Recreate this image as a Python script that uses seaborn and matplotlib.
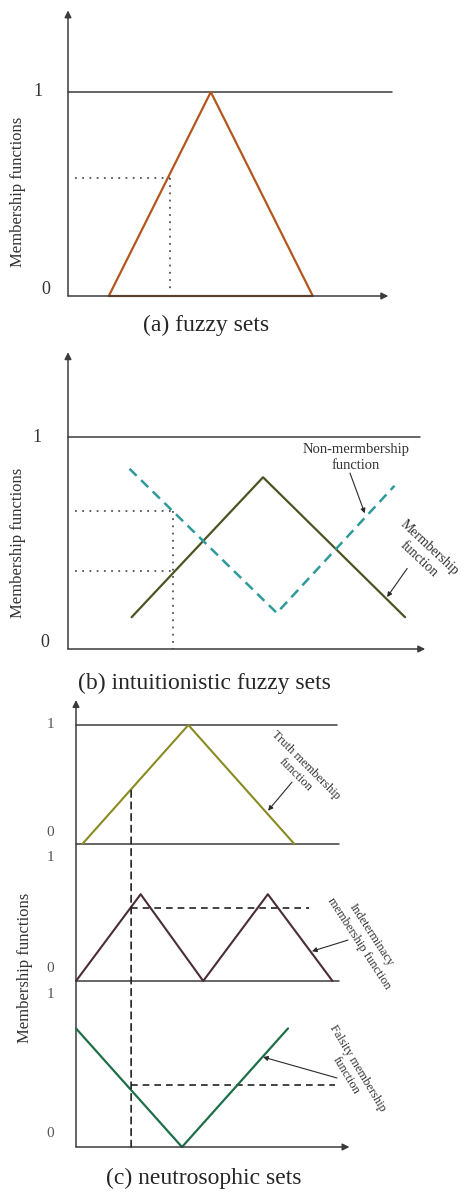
import matplotlib
matplotlib.use('Agg')
import matplotlib.pyplot as plt
from matplotlib.patches import ConnectionPatch
import seaborn as sns

W, H = 465, 1193

# (a) fuzzy sets
fuzzy_x = [2.0, 7.0, 12.0, 2.0]
fuzzy_y = [0.0, 1.0, 0.0, 0.0]
fuzzy_pick_x = 5.0
fuzzy_pick_y = 0.58

# (b) intuitionistic fuzzy sets
mem_x = [3.0, 9.2, 15.9]
mem_y = [0.15, 0.81, 0.15]
nonmem_x = [2.9, 9.85, 15.4]
nonmem_y = [0.85, 0.17, 0.77]
ifs_pick_x = 4.95
ifs_pick_levels = [0.65, 0.37]

# (c) neutrosophic sets
truth_x = [0.3, 5.3, 10.3]
truth_y = [0.0, 1.0, 0.0]
indet_x = [0.0, 3.05, 6.0, 9.05, 12.1]
indet_y = [0.0, 0.7, 0.0, 0.7, 0.0]
false_x = [0.0, 5.0, 10.0]
false_y = [0.78, 0.0, 0.78]
ns_pick_x = 2.6
ns_pick_truth = 0.45
ns_pick_indet = 0.59
ns_pick_false = 0.41

sns.set_theme(style='white')
plt.rcParams['font.family'] = ['Liberation Serif', 'DejaVu Serif']

AX = '#3c3c3c'
ARW = dict(arrowstyle='-|>', color=AX, lw=1.1, mutation_scale=10, shrinkA=0, shrinkB=0)
PTR = dict(arrowstyle='-|>', color='#2a2a2a', lw=0.8, mutation_scale=7, shrinkA=0, shrinkB=0)

fig = plt.figure(figsize=(W / 100, H / 100), dpi=100)


def px_axes(left, top, right, bottom):
    ax = fig.add_axes([left / W, 1 - bottom / H, (right - left) / W, (bottom - top) / H])
    ax.axis('off')
    return ax


def axis_arrows(ax, xtip, ytop):
    ax.annotate('', xy=(0, ytop), xytext=(0, 0), arrowprops=ARW, annotation_clip=False)
    ax.annotate('', xy=(xtip, 0), xytext=(0, 0), arrowprops=ARW, annotation_clip=False)


def curve(ax, x, y, color, **kw):
    sns.lineplot(x=x, y=y, ax=ax, sort=False, estimator=None, color=color,
                 legend=False, **kw)
    for l in ax.lines:
        l.set_clip_on(False)


def note(ax, x, y, s, rot, size, spacing):
    ax.text(x, y, s, ha='center', va='center', multialignment='center', rotation=rot,
            rotation_mode='anchor', fontsize=size, color='#333', linespacing=spacing)


# ---------- (a) ----------
ax = px_axes(68, 10.4, 68 + 16.5 * 20.4, 296)
ax.set_xlim(0, 16.5)
ax.set_ylim(0, 1.4)
ax.plot([0, 15.9], [1, 1], color=AX, lw=1.1)
ax.plot([0.35, fuzzy_pick_x], [fuzzy_pick_y] * 2, color='#555', lw=1.3, ls=(0, (1, 3)))
ax.plot([fuzzy_pick_x] * 2, [fuzzy_pick_y, 0.03], color='#555', lw=1.3, ls=(0, (1, 3)))
axis_arrows(ax, 15.7, 1.4)
curve(ax, fuzzy_x, fuzzy_y, '#b3561d', lw=1.6)
ax.text(-1.47, 1.0, '1', ha='center', va='center', fontsize=13, color='#333')
ax.text(-1.08, 0.03, '0', ha='center', va='center', fontsize=13, color='#333')
fig.text(18 / W, 1 - 192 / H, 'Membership functions', rotation=90, ha='center',
         va='center', fontsize=12, color='#333')
fig.text(206 / W, 1 - 325 / H, '(a) fuzzy sets', ha='center', va='center', fontsize=17)

# ---------- (b) ----------
ax = px_axes(68, 352.2, 68 + 17.2 * 21.2, 649)
ax.set_xlim(0, 17.2)
ax.set_ylim(0, 1.4)
ax.plot([0, 16.6], [1, 1], color=AX, lw=1.1)
for lv in ifs_pick_levels:
    ax.plot([0.33, ifs_pick_x], [lv, lv], color='#555', lw=1.3, ls=(0, (1, 3)))
ax.plot([ifs_pick_x] * 2, [max(ifs_pick_levels), 0], color='#555', lw=1.3, ls=(0, (1, 3)))
axis_arrows(ax, 16.85, 1.4)
curve(ax, mem_x, mem_y, '#4b5522', lw=1.6)
curve(ax, nonmem_x, nonmem_y, '#2f9a9b', lw=1.8, ls=(0, (4, 2.5)))
ax.text(-1.46, 1.0, '1', ha='center', va='center', fontsize=13, color='#333')
ax.text(-1.08, 0.03, '0', ha='center', va='center', fontsize=13, color='#333')
note(ax, 13.58, 0.903, 'Non-mermbership\nfunction', 0, 10.5, 1.25)
ax.annotate('', xy=(14.0, 0.64), xytext=(13.3, 0.83), arrowprops=PTR, annotation_clip=False)
note(ax, 16.8, 0.45, 'Mermbership\nfunction', -43, 10, 1.3)
ax.annotate('', xy=(15.05, 0.245), xytext=(16.0, 0.38), arrowprops=PTR, annotation_clip=False)
fig.text(18 / W, 1 - 543 / H, 'Membership functions', rotation=90, ha='center',
         va='center', fontsize=12, color='#333')
fig.text(204 / W, 1 - 683 / H, '(b) intuitionistic fuzzy sets', ha='center', va='center',
         fontsize=17)

# ---------- (c) ----------
right_c = 76 + 13.2 * 21.2
ax_top = px_axes(76, 700, right_c, 844)
ax_mid = px_axes(76, 844, right_c, 981)
ax_bot = px_axes(76, 981, right_c, 1147)
ax_top.set_ylim(0, 1.21)
ax_mid.set_ylim(0, 1.105)
ax_bot.set_ylim(0, 1.092)
for a in (ax_top, ax_mid, ax_bot):
    a.set_xlim(0, 13.2)

ax_top.plot([0, 12.3], [1, 1], color=AX, lw=1.1)
ax_top.plot([0, 12.4], [0, 0], color=AX, lw=1.1, clip_on=False)
ax_mid.plot([0, 12.4], [0, 0], color=AX, lw=1.1, clip_on=False)
ax_bot.annotate('', xy=(12.9, 0), xytext=(0, 0), arrowprops=ARW, annotation_clip=False)
ax_top.annotate('', xy=(0, 1.21), xycoords='data', xytext=(0, 0),
                textcoords=ax_bot.transData, arrowprops=ARW, annotation_clip=False)

con = ConnectionPatch(xyA=(ns_pick_x, ns_pick_truth), coordsA=ax_top.transData,
                      xyB=(ns_pick_x, 0), coordsB=ax_bot.transData,
                      color='#222', lw=1.2, ls=(0, (4, 3)))
fig.add_artist(con)
ax_mid.plot([ns_pick_x, 11.0], [ns_pick_indet] * 2, color='#222', lw=1.2, ls=(0, (4, 3)))
ax_bot.plot([ns_pick_x, 12.2], [ns_pick_false] * 2, color='#222', lw=1.2, ls=(0, (4, 3)))

curve(ax_top, truth_x, truth_y, '#8a8a22', lw=1.5)
curve(ax_mid, indet_x, indet_y, '#4a2d36', lw=1.5)
curve(ax_bot, false_x, false_y, '#1f6e4a', lw=1.6)

for a, zero_y in ((ax_top, 0.1), (ax_mid, 0.097), (ax_bot, 0.092)):
    a.text(-1.18, 1.0, '1', ha='center', va='center', fontsize=11, color='#555')
    a.text(-1.23, zero_y, '0', ha='center', va='center', fontsize=11, color='#555')

note(ax_top, 10.6, 0.62, 'Truth membership\nfunction', -45, 9, 1.15)
ax_top.annotate('', xy=(9.06, 0.28), xytext=(10.19, 0.52), arrowprops=PTR, annotation_clip=False)
note(ax_mid, 13.63, 0.339, 'Indeterminacy\nmembership function', -57, 9, 1.3)
ax_mid.annotate('', xy=(11.13, 0.24), xytext=(12.83, 0.33), arrowprops=PTR, annotation_clip=False)
note(ax_bot, 13.02, 0.493, 'Falsity membership\nfunction', -59, 9, 1.2)
ax_bot.annotate('', xy=(8.82, 0.592), xytext=(12.31, 0.454), arrowprops=PTR, annotation_clip=False)

fig.text(25 / W, 1 - 968 / H, 'Membership functions', rotation=90, ha='center',
         va='center', fontsize=12, color='#333')
fig.text(204 / W, 1 - 1178 / H, '(c) neutrosophic sets', ha='center', va='center', fontsize=17)

fig.savefig('out.png', dpi=100)
